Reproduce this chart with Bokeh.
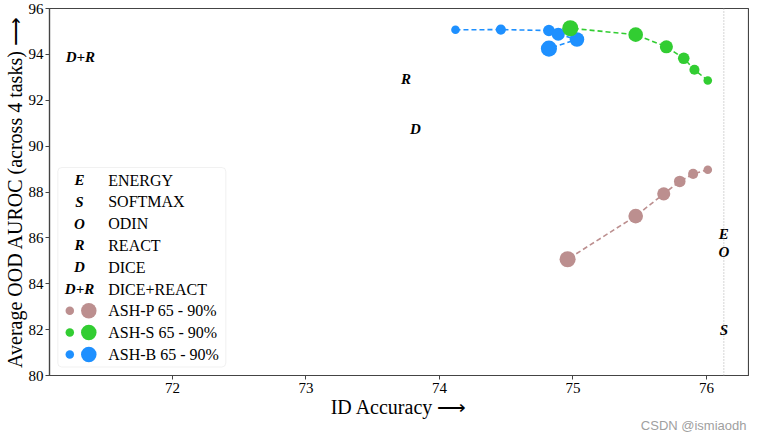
from bokeh.plotting import figure
from bokeh.models import Range1d, BoxAnnotation, Span, Title
from bokeh.core.properties import value
from bokeh.embed import file_html
from bokeh.resources import INLINE

# ---------------- data ----------------
prune_pct = [65, 70, 75, 80, 85, 90]

ash_p_acc = [76.01, 75.90, 75.80, 75.68, 75.47, 74.96]
ash_p_auroc = [88.97, 88.79, 88.46, 87.92, 86.95, 85.07]

ash_s_acc = [76.01, 75.91, 75.83, 75.70, 75.47, 74.98]
ash_s_auroc = [92.86, 93.33, 93.83, 94.33, 94.86, 95.14]

ash_b_acc = [74.12, 74.46, 74.82, 74.89, 75.03, 74.82]
ash_b_auroc = [95.07, 95.08, 95.04, 94.88, 94.65, 94.25]

baseline_marks = ["E", "S", "O", "R", "D", "D+R"]
baseline_names = ["ENERGY", "SOFTMAX", "ODIN", "REACT", "DICE", "DICE+REACT"]
baseline_acc = [76.13, 76.13, 76.13, 73.75, 73.82, 71.31]
baseline_auroc = [86.17, 81.99, 85.39, 92.92, 90.76, 93.89]

reference_acc = 76.13

ash_names = ["ASH-P 65 - 90%", "ASH-S 65 - 90%", "ASH-B 65 - 90%"]
ash_colors = ["#bc8f8f", "#32cd32", "#1e90ff"]

x_ticks = [72, 73, 74, 75, 76]
y_ticks = [80, 82, 84, 86, 88, 90, 92, 94, 96]

# ---------------- figure ----------------
FW, FH = 699, 367
SERIF = "Liberation Serif"

p = figure(frame_width=FW, frame_height=FH,
           x_range=Range1d(71.079, 76.315), y_range=Range1d(80, 96),
           output_backend="svg", toolbar_location=None,
           min_border_left=0, min_border_right=1, min_border_top=8, min_border_bottom=57)
p.background_fill_color = "white"
p.border_fill_color = "white"
p.grid.visible = False
p.outline_line_color = "#444444"
p.outline_line_width = 1.2

for ax in (p.xaxis[0], p.yaxis[0]):
    ax.major_label_text_font = SERIF
    ax.major_label_text_font_size = "15px"
    ax.major_label_text_color = "black"
    ax.axis_label_text_font = SERIF
    ax.axis_label_text_font_size = "20px"
    ax.axis_label_text_font_style = "normal"
    ax.axis_label_text_color = "black"
    ax.minor_tick_line_color = None
    ax.major_tick_in = 0
    ax.major_tick_out = 4
    ax.major_tick_line_color = "#444444"
    ax.axis_line_color = "#444444"
    ax.axis_line_width = 1.2

p.xaxis.ticker = x_ticks
p.yaxis.ticker = y_ticks
p.xaxis.axis_label = "ID Accuracy ⟶"
p.yaxis.axis_label = "Average OOD AUROC (across 4 tasks) ⟶"
p.yaxis.axis_label_standoff = 0
p.xaxis.axis_label_standoff = 0
p.yaxis.major_label_standoff = 2
p.xaxis.major_label_standoff = 3

p.add_layout(Title(text="CSDN @ismiaodh", align="right", text_color="#a0a0a0",
                   text_font="Liberation Sans", text_font_size="13px",
                   text_font_style="normal", standoff=-10, offset=2), "below")

p.add_layout(Span(location=reference_acc, dimension="height", line_color="#b8b8b8",
                  line_dash="1 2", line_width=1.2))


def msize(pct):
    return 8.6 + (pct - 65) * 0.3


sizes = [msize(v) for v in prune_pct]
dash = "5 3"

p.line(ash_p_acc, ash_p_auroc, line_color=ash_colors[0], line_dash=dash, line_width=1.6)
p.scatter(ash_p_acc, ash_p_auroc, size=sizes, fill_color=ash_colors[0], line_color=None)
p.line(ash_b_acc, ash_b_auroc, line_color=ash_colors[2], line_dash=dash, line_width=1.6)
p.scatter(ash_b_acc, ash_b_auroc, size=sizes, fill_color=ash_colors[2], line_color=None)
p.line(ash_s_acc, ash_s_auroc, line_color=ash_colors[1], line_dash=dash, line_width=1.6)
p.scatter(ash_s_acc, ash_s_auroc, size=sizes, fill_color=ash_colors[1], line_color=None)

p.text(x=baseline_acc, y=baseline_auroc, text=baseline_marks,
       text_font=value(SERIF), text_font_style="bold italic", text_font_size="15px",
       text_align="center", text_baseline="middle", text_color="black")

# ---------------- legend (pixel coordinates inside the frame) ----------------
p.extra_x_ranges = {"px": Range1d(0, FW)}
p.extra_y_ranges = {"px": Range1d(0, FH)}

box = BoxAnnotation(left=8.3, right=176.3, bottom=8.5, top=208.0,
                    left_units="screen", right_units="screen",
                    bottom_units="screen", top_units="screen",
                    fill_color="white", fill_alpha=0.8,
                    line_color="#d0d0d0", line_width=1, border_radius=4,
                    level="underlay")
p.add_layout(box)

row0, step = 195.5, 21.8
rows = [row0 - step * i for i in range(len(baseline_names) + len(ash_names))]
mark_x, small_x, big_x, text_x = 30.0, 20.3, 39.3, 58.7

p.text(x=[mark_x] * len(baseline_marks), y=rows[:len(baseline_marks)], text=baseline_marks,
       x_range_name="px", y_range_name="px",
       text_font=value(SERIF), text_font_style="bold italic", text_font_size="15px",
       text_align="center", text_baseline="middle", text_color="black")

ash_rows = rows[len(baseline_marks):]
p.scatter(x=[small_x] * 3, y=ash_rows, size=8.5, fill_color=ash_colors, line_color=None,
          x_range_name="px", y_range_name="px")
p.scatter(x=[big_x] * 3, y=ash_rows, size=15.5, fill_color=ash_colors, line_color=None,
          x_range_name="px", y_range_name="px")

p.text(x=[text_x] * len(rows), y=rows, text=baseline_names + ash_names,
       x_range_name="px", y_range_name="px",
       text_font=value(SERIF), text_font_size="16px",
       text_align="left", text_baseline="middle", text_color="black")

open("out.html", "w").write(file_html(p, INLINE))
